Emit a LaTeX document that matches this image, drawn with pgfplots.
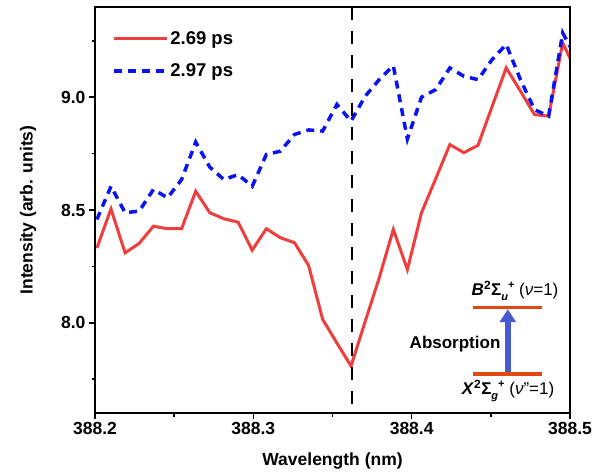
\documentclass[border=0pt]{standalone}
\usepackage{pgfplots}
\pgfplotsset{compat=1.18}
\usepackage{fontspec}
\setmainfont{Liberation Sans}
\usetikzlibrary{arrows.meta}
\definecolor{cred}{RGB}{238,62,62}
\definecolor{cblue}{RGB}{10,20,240}
\definecolor{corange}{RGB}{226,72,18}
\definecolor{carrow}{RGB}{70,90,210}
\newcommand\lbl[1]{\fontsize{#1}{#1}\selectfont}
\begin{document}
\begin{tikzpicture}
\path[use as bounding box] (-95pt,-59pt) rectangle (514pt,413pt);
\begin{axis}[
  at={(0pt,0pt)}, anchor=south west, scale only axis,
  width=475pt, height=406pt,
  xmin=388.2, xmax=388.5, ymin=7.6, ymax=9.4,
  clip mode=individual,
  axis line style={line width=1.8pt},
  xtick={388.2,388.3,388.4,388.5},
  xticklabels={388.2,388.3,388.4,388.5},
  minor xtick={388.25,388.35,388.45},
  ytick={8.0,8.5,9.0},
  yticklabels={8.0,8.5,9.0},
  minor ytick={7.75,8.25,8.75,9.25},
  xtick pos=bottom, ytick pos=left,
  tick align=outside,
  major tick length=6pt, minor tick length=3.5pt,
  every tick/.style={black, line width=1.6pt},
  /pgf/number format/assume math mode=true,
  tick label style={font=\bfseries\lbl{17.5}},
  label style={font=\bfseries\lbl{17.5}},
  xlabel={Wavelength (nm)},
  ylabel={Intensity (arb. units)},
  xlabel style={at={(axis description cs:0.5,-0.118)}, anchor=center},
  ylabel style={at={(axis description cs:-0.141,0.5)}, anchor=center},
  legend style={draw=none, fill=none, at={(axis description cs:0.035,0.945)}, anchor=north west,
    font=\bfseries\lbl{18.5}, row sep=14pt, inner sep=0pt},
  legend cell align=left,
  legend image code/.code={\draw[#1] (0pt,0pt) -- (53pt,0pt);},
]
\addplot[cred, line width=3pt] coordinates {
(388.2012,8.332) (388.2101,8.505) (388.2190,8.310) (388.2279,8.352) (388.2369,8.428)
(388.2458,8.417) (388.2547,8.417) (388.2636,8.583) (388.2725,8.488) (388.2814,8.461)
(388.2904,8.446) (388.2993,8.322) (388.3082,8.417) (388.3171,8.377) (388.3260,8.355)
(388.3349,8.254) (388.3438,8.015) (388.3528,7.910) (388.3617,7.808) (388.3706,8.005)
(388.3795,8.199) (388.3884,8.414) (388.3973,8.236) (388.4062,8.488) (388.4152,8.639)
(388.4241,8.790) (388.4330,8.754) (388.4419,8.787) (388.4508,8.959) (388.4597,9.130)
(388.4687,9.027) (388.4776,8.923) (388.4865,8.916) (388.4954,9.241) (388.5043,9.110)
};
\addlegendentry{2.69 ps}
\addplot[cblue, line width=3.5pt, dash pattern=on 8pt off 6pt] coordinates {
(388.2012,8.458) (388.2101,8.605) (388.2190,8.488) (388.2279,8.495) (388.2369,8.591)
(388.2458,8.554) (388.2547,8.635) (388.2636,8.801) (388.2725,8.690) (388.2814,8.635)
(388.2904,8.657) (388.2993,8.605) (388.3082,8.746) (388.3171,8.761) (388.3260,8.835)
(388.3349,8.855) (388.3438,8.850) (388.3528,8.968) (388.3617,8.894) (388.3706,9.004)
(388.3795,9.078) (388.3884,9.140) (388.3973,8.815) (388.4062,9.000) (388.4152,9.034)
(388.4241,9.130) (388.4330,9.093) (388.4419,9.078) (388.4508,9.167) (388.4597,9.234)
(388.4687,9.078) (388.4776,8.945) (388.4865,8.916) (388.4954,9.285) (388.5043,9.170)
};
\addlegendentry{2.97 ps}
\draw[black, line width=2.2pt, dash pattern=on 13pt off 11pt] (axis cs:388.3625,9.4) -- (axis cs:388.3625,7.6);
\draw[carrow, line width=5.5pt, -{Triangle[length=13pt,width=16pt]}] (axis cs:388.4607,7.774) -- (axis cs:388.4607,8.060);
\draw[corange, line width=3.5pt] (axis cs:388.4386,8.068) -- (axis cs:388.4822,8.068);
\draw[corange, line width=3.5pt] (axis cs:388.4386,7.774) -- (axis cs:388.4822,7.774);
\node[font=\bfseries\lbl{17}] at (axis cs:388.4274,7.904) {Absorption};
\node[font=\bfseries\lbl{17}] at (axis cs:388.4653,8.140) {\textit{B}\textsuperscript{2}Σ\raisebox{-0.3em}{\lbl{11}\textit{u}}\raisebox{0.45em}{\lbl{11}+} {\mdseries(\textit{ν}=1)}};
\node[font=\bfseries\lbl{17}] at (axis cs:388.4609,7.697) {\textit{X}\textsuperscript{2}Σ\raisebox{-0.3em}{\lbl{11}\textit{g}}\raisebox{0.45em}{\lbl{11}+} {\mdseries(\textit{ν}”=1)}};
\draw[black, line width=1.8pt] (rel axis cs:0,0) rectangle (rel axis cs:1,1);
\end{axis}
\end{tikzpicture}
\end{document}
